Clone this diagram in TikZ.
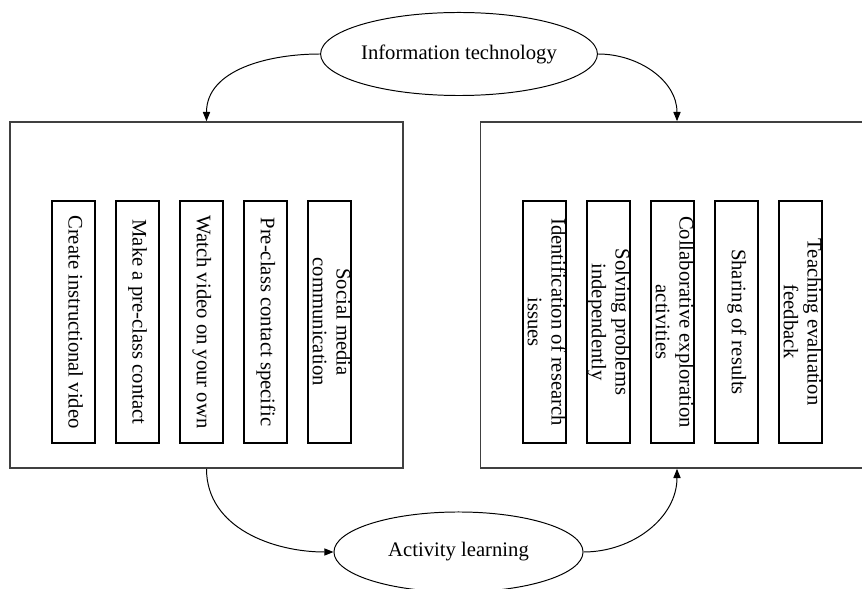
\documentclass[tikz,border=0pt]{standalone}
\usepackage{fontspec}
\setmainfont{Liberation Serif}
\usepackage{graphicx}
\usepackage{tikz}
\usetikzlibrary{positioning,shapes.geometric,arrows.meta}

\newcommand{\vlabel}[1]{\makebox[0pt]{\rotatebox{-90}{\begin{tabular}{@{}c@{}}#1\end{tabular}}}}

\begin{document}
\begin{tikzpicture}[x=0.025cm,y=-0.025cm,-,auto,node distance=1.6cm,
                    font=\fontsize{14.7pt}{17pt}\selectfont,
                    >={Triangle[length=2.3mm,width=1.8mm]},
                    main ellipse/.style={ellipse,draw,line width=0.7pt,inner sep=0pt},
                    outer box/.style={draw,black!75,line width=1.1pt,minimum width=9.825cm,minimum height=8.65cm},
                    item box/.style={draw,line width=0.9pt,inner sep=0pt,minimum width=1.075cm,minimum height=6.05cm}]

  \useasboundingbox (0,0) rectangle (862,589);
  \clip (0,0) rectangle (862,589);

  \node[main ellipse,minimum width=6.7cm,minimum height=2.075cm] (info) at (459,54) {Information technology};
  \node[main ellipse,minimum width=6.225cm,minimum height=2cm] (act) at (458.5,552) {Activity learning};

  \node[outer box] (Box1) at (206.5,295) {};
  \node[outer box] (Box2) at (677,295) {};

  % before class
  \node[item box] (a1) at (73.5,322) {\vlabel{Create instructional video}};
  \node[item box] (a2) [right of=a1] {\vlabel{Make a pre-class contact}};
  \node[item box] (a3) [right of=a2] {\vlabel{Watch video on your own}};
  \node[item box] (a4) [right of=a3] {\vlabel{Pre-class contact specific}};
  \node[item box] (a5) [right of=a4] {\vlabel{Social media\\communication}};

  % in class
  \node[item box] (b1) at (544.5,322) {\vlabel{Identification of research\\issues}};
  \node[item box] (b2) [right of=b1] {\vlabel{Solving problems\\independently}};
  \node[item box] (b3) [right of=b2] {\vlabel{Collaborative exploration\\activities}};
  \node[item box] (b4) [right of=b3] {\vlabel{Sharing of results}};
  \node[item box] (b5) [right of=b4] {\vlabel{Teaching evaluation\\feedback}};

  \path[->,line width=0.7pt]
    (info.west) edge[out=180,in=90] (Box1.north)
    (info.east) edge[out=0,in=90] (Box2.north)
    (Box1.south) edge[out=-90,in=180] (act.west)
    (act.east) edge[out=0,in=-90] (Box2.south);
\end{tikzpicture}
\end{document}
